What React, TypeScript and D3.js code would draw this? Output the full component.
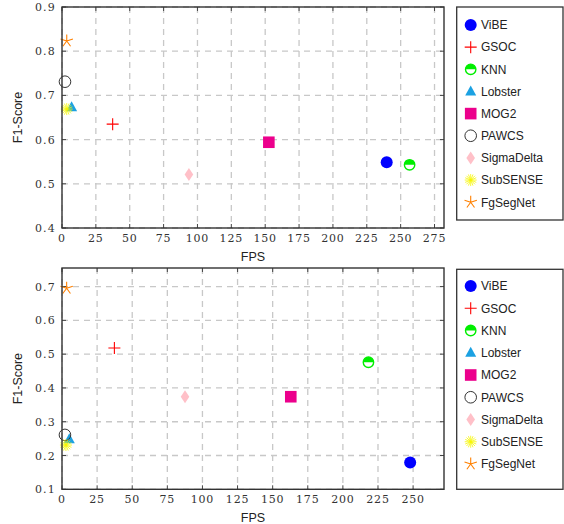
import React, { useEffect, useRef } from 'react';
import * as d3 from 'd3';

const methods = ['ViBE', 'GSOC', 'KNN', 'Lobster', 'MOG2', 'PAWCS', 'SigmaDelta', 'SubSENSE', 'FgSegNet'];
const markers = ['dot', 'plus', 'halfcircle', 'triangle', 'square', 'circle', 'diamond', 'asterisk', 'star'];
const colors = ['#0000ff', '#ff0000', '#00ee00', '#1ba1e2', '#ec008c', '#333333', '#ffc0c8', '#f6f600', '#ff8000'];

// top panel
const fpsTop = [239.7, 37.4, 256.6, 7.1, 152.7, 2.2, 93.7, 3.5, 3.5];
const f1Top = [0.549, 0.635, 0.543, 0.673, 0.594, 0.731, 0.521, 0.669, 0.823];
const xTicksTop = [0, 25, 50, 75, 100, 125, 150, 175, 200, 225, 250, 275];
const yTicksTop = [0.4, 0.5, 0.6, 0.7, 0.8, 0.9];

// bottom panel
const fpsBottom = [247.9, 37.3, 218.2, 5.2, 162.9, 2.1, 87.6, 2.8, 3.3];
const f1Bottom = [0.179, 0.518, 0.476, 0.248, 0.374, 0.261, 0.374, 0.231, 0.695];
const xTicksBottom = [0, 25, 50, 75, 100, 125, 150, 175, 200, 225, 250];
const yTicksBottom = [0.1, 0.2, 0.3, 0.4, 0.5, 0.6, 0.7];

function drawMarker(g: any, type: string, color: string, cx: number, cy: number) {
  const m = g.append('g').attr('transform', 'translate(' + cx + ',' + cy + ')');
  if (type === 'dot') {
    m.append('circle').attr('r', 6).attr('fill', color);
  } else if (type === 'plus') {
    m.append('path').attr('d', 'M-6,0H6M0,-6V6').attr('stroke', color).attr('stroke-width', 1.1);
  } else if (type === 'halfcircle') {
    m.append('circle').attr('r', 5.2).attr('fill', 'white');
    m.append('path').attr('d', 'M-5.2,0A5.2,5.2 0 0,1 5.2,0Z').attr('fill', color);
    m.append('circle').attr('r', 5.2).attr('fill', 'none').attr('stroke', color).attr('stroke-width', 1.4);
  } else if (type === 'triangle') {
    m.append('path').attr('d', 'M0,-6L5.5,4L-5.5,4Z').attr('fill', color);
  } else if (type === 'square') {
    m.append('rect').attr('x', -5.8).attr('y', -5.8).attr('width', 11.6).attr('height', 11.6).attr('fill', color);
  } else if (type === 'circle') {
    m.append('circle').attr('r', 5.8).attr('fill', 'none').attr('stroke', color).attr('stroke-width', 1);
  } else if (type === 'diamond') {
    m.append('path').attr('d', 'M0,-6.5L4.3,0L0,6.5L-4.3,0Z').attr('fill', color);
  } else if (type === 'asterisk') {
    const d = d3.range(8).map(i => {
      const a = (i * Math.PI) / 8;
      return 'M' + (-6 * Math.cos(a)) + ',' + (-6 * Math.sin(a)) + 'L' + (6 * Math.cos(a)) + ',' + (6 * Math.sin(a));
    }).join('');
    m.append('path').attr('d', d).attr('stroke', color).attr('stroke-width', 0.8);
  } else if (type === 'star') {
    const d = d3.range(5).map(i => {
      const a = -Math.PI / 2 + (i * 2 * Math.PI) / 5;
      return 'M0,0L' + (6.5 * Math.cos(a)) + ',' + (6.5 * Math.sin(a));
    }).join('');
    m.append('path').attr('d', d).attr('stroke', color).attr('stroke-width', 1.1);
  }
}

function drawPanel(svg: any, opts: any) {
  const { left, right, top, bottom, xMax, yMin, yMax, xTicks, yTicks, fps, f1, legendTop, legendBottom, legendY0, legendStep } = opts;
  const x = d3.scaleLinear().domain([0, xMax]).range([left, right]);
  const y = d3.scaleLinear().domain([yMin, yMax]).range([bottom, top]);
  const g = svg.append('g');

  // grid
  g.selectAll('.vg').data(xTicks).enter().append('line')
    .attr('x1', (d: number) => x(d)).attr('x2', (d: number) => x(d))
    .attr('y1', top).attr('y2', bottom)
    .attr('stroke', '#c8c8c8').attr('stroke-width', 1.3).attr('stroke-dasharray', '6,5');
  g.selectAll('.hg').data(yTicks).enter().append('line')
    .attr('x1', left).attr('x2', right)
    .attr('y1', (d: number) => y(d)).attr('y2', (d: number) => y(d))
    .attr('stroke', '#c8c8c8').attr('stroke-width', 1.3).attr('stroke-dasharray', '6,5');

  // ticks
  xTicks.forEach((d: number) => {
    g.append('line').attr('x1', x(d)).attr('x2', x(d)).attr('y1', bottom).attr('y2', bottom - 4).attr('stroke', '#444');
    g.append('line').attr('x1', x(d)).attr('x2', x(d)).attr('y1', top).attr('y2', top + 4).attr('stroke', '#444');
  });
  yTicks.forEach((d: number) => {
    g.append('line').attr('x1', left).attr('x2', left + 4).attr('y1', y(d)).attr('y2', y(d)).attr('stroke', '#444');
    g.append('line').attr('x1', right).attr('x2', right - 4).attr('y1', y(d)).attr('y2', y(d)).attr('stroke', '#444');
  });

  // tick labels
  g.selectAll('.xt').data(xTicks).enter().append('text')
    .attr('x', (d: number) => x(d)).attr('y', bottom + 14)
    .attr('text-anchor', 'middle')
    .style('font-family', 'DejaVu Serif').style('font-size', '11px').style('letter-spacing', '0.8px')
    .attr('fill', '#333')
    .text((d: number) => String(d));
  g.selectAll('.yt').data(yTicks).enter().append('text')
    .attr('x', left - 6).attr('y', (d: number) => y(d) + 4)
    .attr('text-anchor', 'end')
    .style('font-family', 'DejaVu Serif').style('font-size', '11px').style('letter-spacing', '1.2px')
    .attr('fill', '#333')
    .text((d: number) => d.toFixed(1));

  // axis labels
  g.append('text').attr('x', (left + right) / 2).attr('y', bottom + 33)
    .attr('text-anchor', 'middle')
    .style('font-family', 'Liberation Sans').style('font-size', '12.5px').attr('fill', '#222')
    .text('FPS');
  g.append('text')
    .attr('transform', 'translate(22,' + (top + bottom) / 2 + ') rotate(-90)')
    .attr('text-anchor', 'middle')
    .style('font-family', 'Liberation Sans').style('font-size', '12.5px').attr('fill', '#222')
    .text('F1-Score');

  // points
  methods.forEach((name, i) => {
    drawMarker(g, markers[i], colors[i], x(fps[i]), y(f1[i]));
  });

  // frame
  g.append('rect').attr('x', left).attr('y', top).attr('width', right - left).attr('height', bottom - top)
    .attr('fill', 'none').attr('stroke', '#333').attr('stroke-width', 1.4);

  // legend
  g.append('rect').attr('x', 456.7).attr('y', legendTop).attr('width', 106.3).attr('height', legendBottom - legendTop)
    .attr('fill', 'white').attr('stroke', '#333').attr('stroke-width', 1.3);
  methods.forEach((name, i) => {
    const ly = legendY0 + i * legendStep;
    drawMarker(g, markers[i], colors[i], 470.7, ly);
    g.append('text').attr('x', 481).attr('y', ly + 4.3)
      .style('font-family', 'Liberation Sans').style('font-size', '12px').attr('fill', '#222')
      .text(name);
  });
}

export default function App() {
  const ref = useRef<SVGSVGElement>(null);
  useEffect(() => {
    const svg = d3.select(ref.current);
    svg.selectAll('*').remove();
    drawPanel(svg, {
      left: 62, right: 444, top: 7, bottom: 228, xMax: 282, yMin: 0.4, yMax: 0.9,
      xTicks: xTicksTop, yTicks: yTicksTop, fps: fpsTop, f1: f1Top,
      legendTop: 7, legendBottom: 220, legendY0: 25, legendStep: 22.15,
    });
    drawPanel(svg, {
      left: 62, right: 444, top: 268, bottom: 489.3, xMax: 272, yMin: 0.1, yMax: 0.755,
      xTicks: xTicksBottom, yTicks: yTicksBottom, fps: fpsBottom, f1: f1Bottom,
      legendTop: 269.3, legendBottom: 489.3, legendY0: 286, legendStep: 22.25,
    });
  }, []);
  return (
    <div style={{ position: 'absolute', left: 0, top: 0 }}>
      <svg ref={ref} width={564} height={524} style={{ display: 'block', background: 'white' }} />
    </div>
  );
}
